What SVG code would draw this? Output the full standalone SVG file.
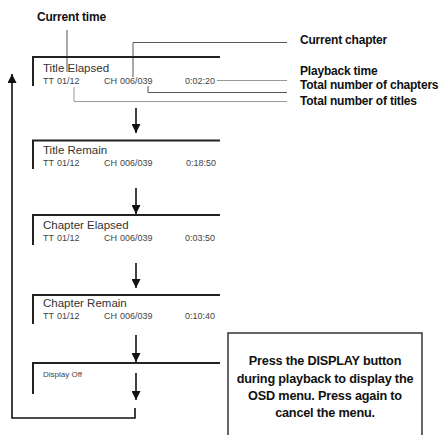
<svg xmlns="http://www.w3.org/2000/svg" width="446" height="435" viewBox="0 0 446 435">
<style>
.frame{fill:none;stroke:#222;stroke-width:2}
.ttl{font-family:"Liberation Sans",Arial,sans-serif;font-size:11.5px;fill:#333}
.sm{font-family:"Liberation Sans",Arial,sans-serif;font-size:9px;fill:#444}
.tiny{font-family:"Liberation Sans",Arial,sans-serif;font-size:8px;fill:#444}
.lbl{font-family:"Liberation Sans",Arial,sans-serif;font-size:12px;font-weight:bold;fill:#111;letter-spacing:-0.2px}
.note{font-family:"Liberation Sans",Arial,sans-serif;font-size:12.7px;font-weight:bold;fill:#111;text-anchor:middle;letter-spacing:-0.2px}
.lead{fill:none;stroke:#555;stroke-width:1}
.leadl{fill:none;stroke:#999;stroke-width:1}
.arr{fill:none;stroke:#111;stroke-width:1.6}
</style>
<defs>
<marker id="ah" viewBox="0 0 10 10" refX="10" refY="5" markerWidth="11" markerHeight="9" markerUnits="userSpaceOnUse" orient="auto">
<path d="M0,0 L10,5 L0,10 z" fill="#111"/>
</marker>
</defs>

<g id="label-current-time">
<text class="lbl" x="37" y="21">Current time</text>
<line class="lead" x1="67" y1="30" x2="67" y2="72"/>
</g>
<g id="label-current-chapter">
<text class="lbl" x="300" y="44">Current chapter</text>
<polyline class="lead" points="133,77 133,42.5 287,42.5"/>
</g>
<g id="label-playback-time">
<text class="lbl" x="300" y="75">Playback time</text>
<line class="leadl" x1="217" y1="80.5" x2="287" y2="80.5"/>
</g>
<g id="label-total-chapters">
<text class="lbl" x="300" y="88.5">Total number of chapters</text>
<polyline class="lead" points="148,86 148,92.5 287,92.5"/>
</g>
<g id="label-total-titles">
<text class="lbl" x="300" y="105">Total number of titles</text>
<polyline class="leadl" points="74,87 74,101.5 287,101.5"/>
</g>

<g id="screen-title-elapsed">
<polyline class="frame" points="33,86 33,57 220,57"/>
<text class="ttl" x="43" y="72">Title Elapsed</text>
<text class="sm" x="43" y="83.5">TT</text><text class="sm" x="57" y="83.5">01/12</text>
<text class="sm" x="104" y="83.5">CH</text><text class="sm" x="120" y="83.5">006/039</text>
<text class="sm" x="185" y="83.5">0:02:20</text>
</g>
<g id="screen-title-remain">
<polyline class="frame" points="33,169 33,140.5 220,140.5"/>
<text class="ttl" x="43" y="154">Title Remain</text>
<text class="sm" x="43" y="165.5">TT</text><text class="sm" x="57" y="165.5">01/12</text>
<text class="sm" x="104" y="165.5">CH</text><text class="sm" x="120" y="165.5">006/039</text>
<text class="sm" x="186" y="165.5">0:18:50</text>
</g>
<g id="screen-chapter-elapsed">
<polyline class="frame" points="33,245 33,215 220,215"/>
<text class="ttl" x="43" y="229">Chapter Elapsed</text>
<text class="sm" x="43" y="240.5">TT</text><text class="sm" x="57" y="240.5">01/12</text>
<text class="sm" x="104" y="240.5">CH</text><text class="sm" x="120" y="240.5">006/039</text>
<text class="sm" x="185" y="240.5">0:03:50</text>
</g>
<g id="screen-chapter-remain">
<polyline class="frame" points="33,324 33,295 220,295"/>
<text class="ttl" x="43" y="307">Chapter Remain</text>
<text class="sm" x="43" y="318.5">TT</text><text class="sm" x="57" y="318.5">01/12</text>
<text class="sm" x="104" y="318.5">CH</text><text class="sm" x="120" y="318.5">006/039</text>
<text class="sm" x="185" y="318.5">0:10:40</text>
</g>
<g id="screen-display-off">
<polyline class="frame" points="33,394 33,363 220,363"/>
<text class="tiny" x="43" y="377">Display Off</text>
</g>

<g id="note">
<rect x="228" y="333" width="194" height="115" fill="#fff" stroke="#333" stroke-width="1.5"/>
<text class="note" x="325" y="365">Press the DISPLAY button</text>
<text class="note" x="325" y="382.5">during playback to display the</text>
<text class="note" x="325" y="399.5">OSD menu. Press again to</text>
<text class="note" x="325" y="416.7">cancel the menu.</text>
</g>

<g id="connectors">
<line class="arr" x1="136" y1="108" x2="136" y2="133" marker-end="url(#ah)"/>
<line class="arr" x1="136" y1="188" x2="136" y2="214" marker-end="url(#ah)"/>
<line class="arr" x1="136" y1="263" x2="136" y2="288" marker-end="url(#ah)"/>
<line class="arr" x1="136" y1="335" x2="136" y2="362" marker-end="url(#ah)"/>
<line class="arr" x1="136" y1="373" x2="136" y2="400" marker-end="url(#ah)"/>
<polyline class="arr" points="135,408 135,418 12,418 12,74" marker-end="url(#ah)"/>
</g>
</svg>
